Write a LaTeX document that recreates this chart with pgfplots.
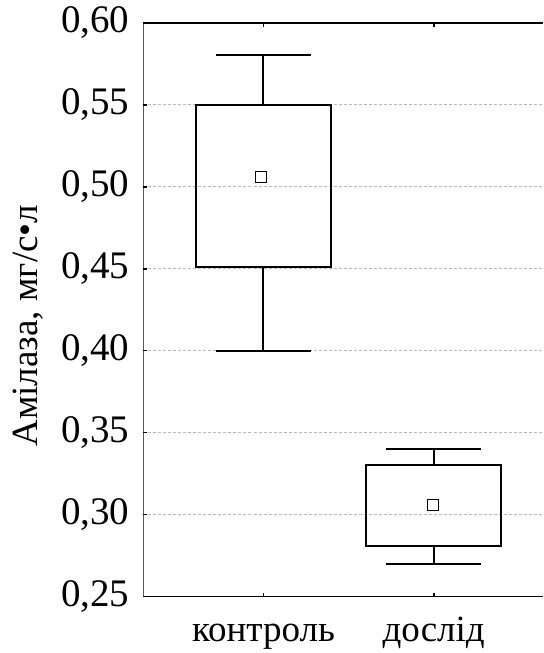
\documentclass[border=0pt]{standalone}
\usepackage{fontspec}
\setmainfont{Liberation Serif}
\usepackage{pgfplots}
\pgfplotsset{compat=1.18}

\begin{document}
\begin{tikzpicture}
\begin{axis}[
  scale only axis,
  width=199.75pt, height=286.9pt,
  xmin=0.295, xmax=2.645,
  ymin=0.25, ymax=0.60,
  xtick={1,2},
  xticklabels={контроль, дослід},
  ytick={0.25,0.30,0.35,0.40,0.45,0.50,0.55,0.60},
  ytick pos=left,
  xtick pos=both,
  tick align=inside,
  major tick length=2pt,
  tick style={black, line width=0.9pt},
  axis line style={draw=none},
  ymajorgrids,
  grid style={gray!55, line width=0.4pt, dash pattern=on 1.5pt off 1pt},
  unbounded coords=jump,
  /pgf/number format/.cd, use comma, fixed, fixed zerofill, precision=2, assume math mode=true,
  /pgfplots/.cd,
  yticklabel style={font=\fontsize{19.5}{23}\selectfont, xshift=-3.5pt},
  xticklabel style={font=\fontsize{18.5}{22}\selectfont, text height=9pt, text depth=4pt, anchor=north, yshift=-10pt},
  ylabel={Амілаза, мг/с•л},
  ylabel style={font=\fontsize{18.5}{22}\selectfont, at={(axis description cs:-0.2875,0.472)}, anchor=center},
]
% axis frame: left, top and bottom sides
\draw[black, line width=1pt] (rel axis cs:1,0) -- (rel axis cs:0,0) -- (rel axis cs:0,1) -- (rel axis cs:1,1);

% контроль: box (quartiles 0.451 / 0.55), whiskers 0.40 / 0.58
\addplot[black, line width=1pt, mark=none, line join=miter] coordinates {
  (0.605,0.451) (1.395,0.451) (1.395,0.55) (0.605,0.55) (0.605,0.451) (1.395,0.451)};
\addplot[black, line width=1pt, mark=none] coordinates {
  (1,0.55) (1,0.58) (nan,nan) (0.72,0.58) (1.28,0.58) (nan,nan)
  (1,0.451) (1,0.40) (nan,nan) (0.72,0.40) (1.28,0.40)};

% дослід: box (quartiles 0.281 / 0.33), whiskers 0.27 / 0.34
\addplot[black, line width=1pt, mark=none, line join=miter] coordinates {
  (1.605,0.281) (2.395,0.281) (2.395,0.33) (1.605,0.33) (1.605,0.281) (2.395,0.281)};
\addplot[black, line width=1pt, mark=none] coordinates {
  (2,0.33) (2,0.34) (nan,nan) (1.72,0.34) (2.28,0.34) (nan,nan)
  (2,0.281) (2,0.27) (nan,nan) (1.72,0.27) (2.28,0.27)};

% means
\addplot[only marks, mark=square*, mark size=2.75pt,
  mark options={fill=white, draw=black, line width=0.5pt}]
  coordinates {(0.985,0.506) (1.995,0.306)};

\coordinate (bl) at (rel axis cs:0,0);
\coordinate (tr) at (rel axis cs:1,1);
\end{axis}
\pgfresetboundingbox
\path[use as bounding box] ([xshift=-71.75pt,yshift=-28.25pt]bl) rectangle ([yshift=11.35pt]tr);
\end{tikzpicture}
\end{document}
